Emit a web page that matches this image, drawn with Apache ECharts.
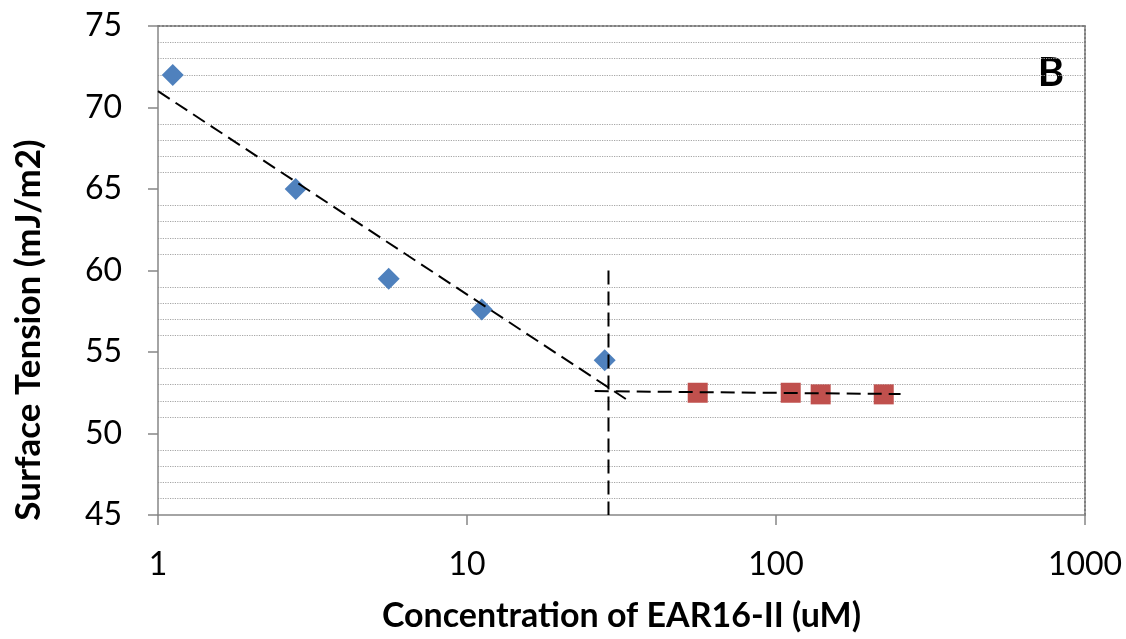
<!DOCTYPE html>
<html>
<head>
<meta charset="utf-8">
<script src="https://cdn.jsdelivr.net/npm/echarts@6/dist/echarts.min.js"></script>
<style>
  html, body { margin: 0; padding: 0; background: #fff; }
  #main { width: 1126px; height: 639px; }
</style>
</head>
<body>
<div id="main"></div>
<script>
// measured points (concentration in uM, surface tension in mJ/m2)
var belowX = [1.116, 2.79, 5.58, 11.16, 27.9];
var belowY = [72, 65, 59.5, 57.6, 54.5];
var aboveX = [55.8, 111.6, 139.5, 223.2];
var aboveY = [52.5, 52.5, 52.4, 52.4];

// trend lines
var fit1X = [1, 34];
var fit1Y = [71.0, 51.9];
var fit2X = [25.9, 253];
var fit2Y = [52.6, 52.42];
var cmcX = [28.7, 28.7];
var cmcY = [60, 45];

var yTicks = [45, 50, 55, 60, 65, 70, 75];

function pairs(xs, ys) {
  return xs.map(function (x, i) { return [x, ys[i]]; });
}

var font = 'Lato, "Open Sans", sans-serif';
var dash = { color: '#000', width: 2, type: [14, 7] };

var myChart = echarts.init(document.getElementById('main'));
myChart.setOption({
  animation: false,
  grid: { left: 158, right: 41, top: 26, bottom: 124, outerBoundsMode: 'none', containLabel: false },
  xAxis: [{
    type: 'log',
    logBase: 10,
    min: 1,
    max: 1000,
    name: 'Concentration of EAR16-II (uM)',
    nameLocation: 'middle',
    nameGap: 84,
    nameTextStyle: { fontFamily: font, fontWeight: 'bold', fontSize: 34, color: '#000' },
    axisLine: { lineStyle: { color: '#868686', width: 1.5 } },
    axisTick: { length: 10, lineStyle: { color: '#868686', width: 1.5 } },
    axisLabel: {
      fontFamily: font, fontSize: 32, color: '#000', margin: 34,
      formatter: function (v) { return String(v); }
    },
    splitLine: { show: false },
    minorTick: { show: false },
    minorSplitLine: { show: false }
  }, {
    type: 'value',
    position: 'top',
    min: 0,
    max: 1,
    axisLine: { show: true, lineStyle: { color: '#7f7f7f', width: 2, type: 'dotted' } },
    axisTick: { show: false },
    axisLabel: { show: false },
    splitLine: { show: false }
  }],
  yAxis: [{
    type: 'value',
    min: yTicks[0],
    max: yTicks[yTicks.length - 1],
    interval: 5,
    axisLine: { show: true, lineStyle: { color: '#868686', width: 1.5 } },
    axisTick: { show: true, length: 10, lineStyle: { color: '#868686', width: 1.5 } },
    axisLabel: { fontFamily: font, fontSize: 32, color: '#000', margin: 36 },
    splitLine: { show: false },
    minorTick: { show: false, splitNumber: 5 },
    minorSplitLine: { show: true, lineStyle: { color: '#a6a6a6', width: 1.2, type: 'dotted' } }
  }, {
    type: 'value',
    position: 'right',
    min: 0,
    max: 1,
    axisLine: { show: true, lineStyle: { color: '#7f7f7f', width: 2, type: 'dotted' } },
    axisTick: { show: false },
    axisLabel: { show: false },
    splitLine: { show: false }
  }],
  graphic: [{
    type: 'text',
    x: 29,
    y: 330,
    rotation: Math.PI / 2,
    style: {
      text: 'Surface Tension (mJ/m2)',
      font: 'bold 35px ' + font,
      fill: '#000',
      textAlign: 'center',
      textVerticalAlign: 'middle'
    }
  }, {
    type: 'text',
    x: 1051,
    y: 73,
    style: {
      text: 'B',
      font: 'bold 40px ' + font,
      fill: '#000',
      textAlign: 'center',
      textVerticalAlign: 'middle'
    }
  }],
  series: [
    {
      type: 'scatter',
      symbol: 'diamond',
      symbolSize: [22, 22],
      itemStyle: { color: '#4f81bd', opacity: 1 },
      data: pairs(belowX, belowY),
      z: 2
    },
    {
      type: 'scatter',
      symbol: 'rect',
      symbolSize: [20, 20],
      itemStyle: { color: '#c0504d', opacity: 1 },
      data: pairs(aboveX, aboveY),
      z: 2
    },
    {
      type: 'line',
      symbol: 'none',
      lineStyle: dash,
      data: pairs(fit1X, fit1Y),
      z: 3
    },
    {
      type: 'line',
      symbol: 'none',
      lineStyle: dash,
      data: pairs(fit2X, fit2Y),
      z: 3
    },
    {
      type: 'line',
      symbol: 'none',
      lineStyle: dash,
      data: pairs(cmcX, cmcY),
      z: 3
    }
  ]
});
</script>
</body>
</html>
